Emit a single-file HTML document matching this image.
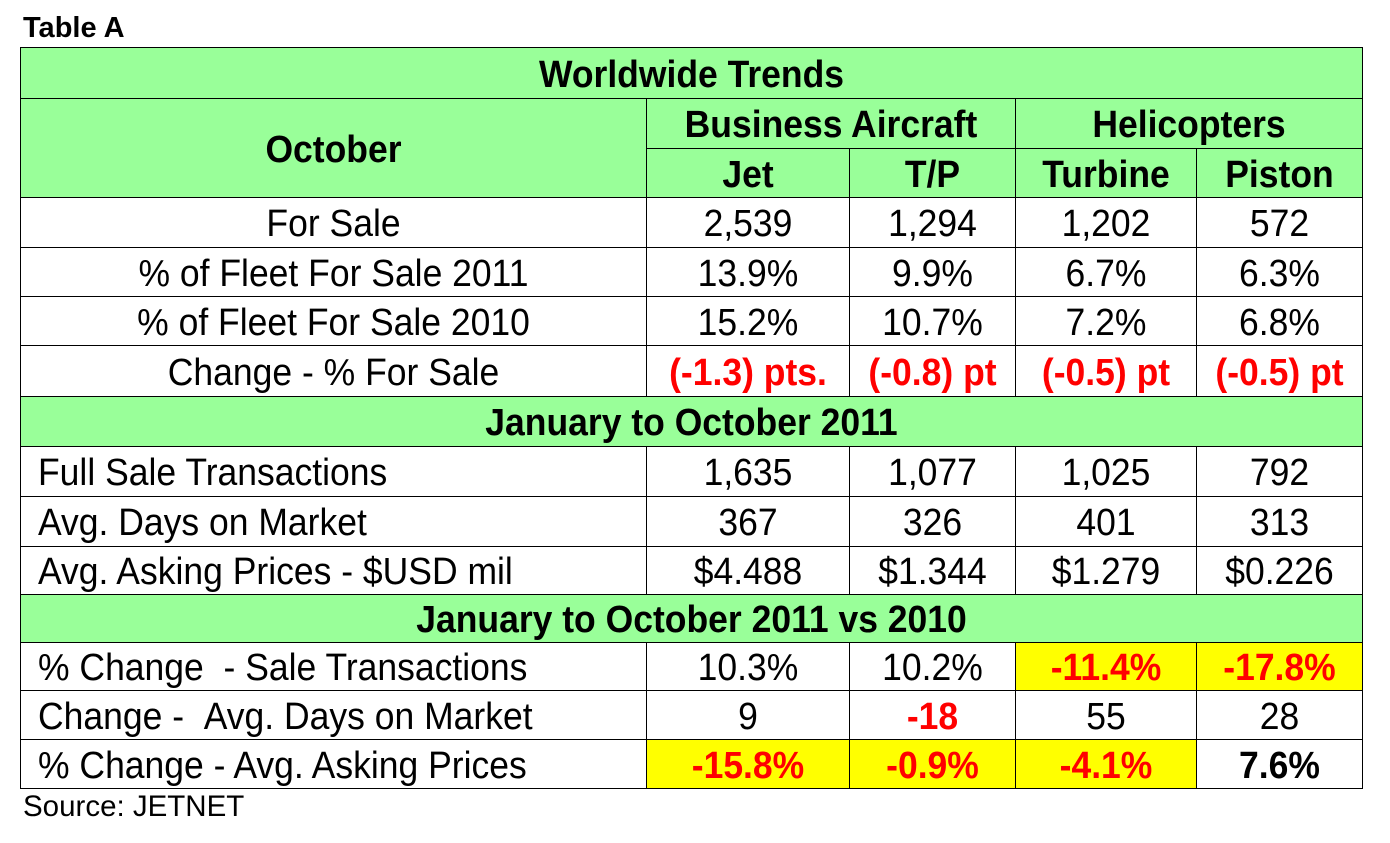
<!DOCTYPE html>
<html><head><meta charset="utf-8"><style>
body{margin:0;width:1390px;height:843px;background:#fff;font-family:"Liberation Sans",Arial,sans-serif;position:relative;overflow:hidden}
.c{position:absolute;box-sizing:border-box;border:1px solid #000;display:flex;align-items:center;justify-content:center;font-size:35.5px;color:#000;white-space:nowrap}
.c span{display:inline-block;transform:scaleY(1.08);position:relative;top:1px}
.g{background:#99ff99;font-weight:bold}
.y{background:#ffff00}
.r{color:#ff0000;font-weight:bold}
.b{font-weight:bold}
.l{justify-content:flex-start;padding-left:17px}
.t{position:absolute;font-weight:bold;font-size:29px}
</style></head><body>
<div class="t" style="left:23px;top:12px">Table A</div>
<div class="t" style="left:23px;top:790px;font-weight:normal;font-size:29.5px">Source: JETNET</div>
<div id="tb"></div>
<script>
var X=[20,646,849,1015,1196,1362];
var Y=[47,98,148,197,247,296,345,396,446,496,546,594,642,690,739,788];
var h='';
function cell(c0,c1,r0,r1,txt,cls){h+='<div class="c '+(cls||'')+'" style="left:'+X[c0]+'px;top:'+Y[r0]+'px;width:'+(X[c1]-X[c0]+1)+'px;height:'+(Y[r1]-Y[r0]+1)+'px"><span>'+txt+'</span></div>';}
cell(0,5,0,1,'Worldwide Trends','g');
cell(0,1,1,3,'October','g');
cell(1,3,1,2,'Business Aircraft','g');
cell(3,5,1,2,'Helicopters','g');
['Jet','T/P','Turbine','Piston'].forEach(function(t,i){cell(i+1,i+2,2,3,t,'g');});
var rows=[
[3,'For Sale',['2,539','1,294','1,202','572'],''],
[4,'% of Fleet For Sale 2011',['13.9%','9.9%','6.7%','6.3%'],''],
[5,'% of Fleet For Sale 2010',['15.2%','10.7%','7.2%','6.8%'],''],
[6,'Change - % For Sale',['(-1.3) pts.','(-0.8) pt','(-0.5) pt','(-0.5) pt'],['r','r','r','r']],
];
rows.forEach(function(r){cell(0,1,r[0],r[0]+1,r[1],'');r[2].forEach(function(v,i){cell(i+1,i+2,r[0],r[0]+1,v,r[3]?r[3][i]:'');});});
cell(0,5,7,8,'January to October 2011','g');
var rows2=[
[8,'Full Sale Transactions',['1,635','1,077','1,025','792'],['','','','']],
[9,'Avg. Days on Market',['367','326','401','313'],['','','','']],
[10,'Avg. Asking Prices - $USD mil',['$4.488','$1.344','$1.279','$0.226'],['','','','']],
];
cell(0,5,11,12,'January to October 2011 vs 2010','g');
rows2=rows2.concat([
[12,'% Change &nbsp;- Sale Transactions',['10.3%','10.2%','-11.4%','-17.8%'],['','','r y','r y']],
[13,'Change - &nbsp;Avg. Days on Market',['9','-18','55','28'],['','r','','']],
[14,'% Change - Avg. Asking Prices',['-15.8%','-0.9%','-4.1%','7.6%'],['r y','r y','r y','b']],
]);
rows2.forEach(function(r){cell(0,1,r[0],r[0]+1,r[1],'l');r[2].forEach(function(v,i){cell(i+1,i+2,r[0],r[0]+1,v,r[3][i]);});});
document.getElementById('tb').innerHTML=h;
</script>
</body></html>
